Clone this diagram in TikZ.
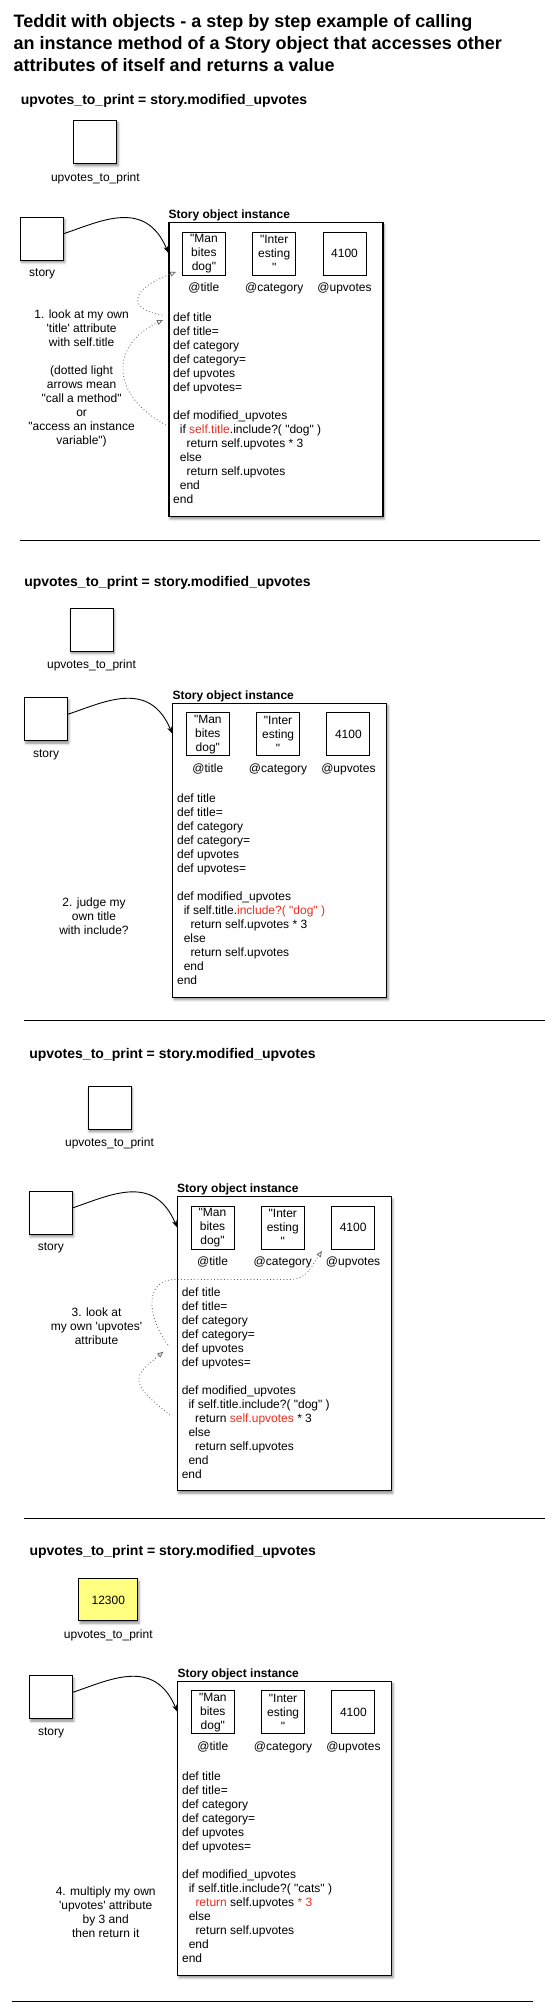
\documentclass[tikz,border=0pt]{standalone}
\usepackage{fontspec}
\setmainfont{Liberation Sans}[Ligatures=TeXOff]
\usepackage{xcolor}
\usepackage{tikz}
\usetikzlibrary{positioning, arrows.meta, shadows.blur}
\definecolor{codered}{RGB}{238,44,30}
\definecolor{answer}{RGB}{255,255,128}
\newcommand\hilite[2]{\ifnum\p=#1\relax\textcolor{codered}{#2}\else#2\fi}

\begin{document}
\begin{tikzpicture}[x=1pt, y=-1pt,
	soft shadow/.style={blur shadow={shadow xshift=1.2pt, shadow yshift=-2.4pt, shadow blur radius=2.4pt, shadow opacity=45}},
	varbox/.style={draw, line width=1pt, fill=white, minimum width=43pt, minimum height=43pt, inner sep=1pt, font=\fontsize{12}{14}\selectfont, soft shadow},
	objbox/.style={draw, line width=1.1pt, fill=white, anchor=north west, minimum width=214pt, minimum height=294pt, soft shadow},
	attrbox/.style={draw, line width=0.9pt, minimum width=43pt, minimum height=43pt, inner sep=1pt, align=center, font=\fontsize{12}{14}\selectfont},
	lbl/.style={inner sep=0pt, font=\fontsize{12}{14}\selectfont},
	bold/.style={inner sep=0pt, font=\fontsize{12}{14}\selectfont\bfseries},
	heading/.style={inner sep=0pt, anchor=base west, font=\fontsize{14}{16}\selectfont\bfseries},
	note/.style={inner sep=0pt, anchor=north, align=center, font=\fontsize{12}{14}\selectfont},
	code/.style={inner sep=0pt, anchor=north west, align=left, font=\fontsize{12}{14}\selectfont},
	pointer/.style={line width=0.9pt, -{Stealth[length=7pt, width=5pt]}},
	callarrow/.style={draw=black!60, line width=0.8pt, dash pattern=on 0.9pt off 2.4pt, -{Triangle[open, length=6pt, width=5pt, line width=0.8pt]}},
	rule/.style={line width=1pt}]

	\useasboundingbox (0,0) rectangle (553,2013);

	% Title
	\node[inner sep=0pt, anchor=north west, align=left, font=\fontsize{18}{22}\selectfont\bfseries] (headline) at (13.5,13.8)
	{Teddit with objects - a step by step example of calling\\an instance method of a Story object that accesses other\\attributes of itself and returns a value};

	% Statement and result variable of each step
	\node[heading] (head1) at (20.6,104) {upvotes\_to\_print = story.modified\_upvotes};
	\node[heading] (head2) at (24.1,586.7) {upvotes\_to\_print = story.modified\_upvotes};
	\node[heading] (head3) at (29.1,1058) {upvotes\_to\_print = story.modified\_upvotes};
	\node[heading] (head4) at (29.4,1555) {upvotes\_to\_print = story.modified\_upvotes};

	\node[varbox] (toprint1) at (95.4,142) {};
	\node[varbox] (toprint2) at (91.5,629.5) {};
	\node[varbox] (toprint3) at (109.5,1107.8) {};
	\node[varbox, fill=answer, minimum width=59pt, minimum height=42pt] (toprint4) at (108.3,1599.9) {12300};
	\foreach \p in {1,2,3,4}
		\node[lbl, below=17pt of toprint\p, anchor=base] (toprintlbl\p) {upvotes\_to\_print};

	% Story object of each step
	\foreach \p/\ox/\oy in {1/168.4/222, 2/172.3/702.7, 3/177/1196.3, 4/177.3/1680.7}{
		\node[objbox] (obj\p) at (\ox,\oy) {};
		\node[bold, anchor=base west] (inst\p) at ([yshift=3.7pt]obj\p.north west) {Story object instance};

		\node[varbox] (story\p) at (\ox-126.2,\oy+16.5) {};
		\node[lbl, below=16pt of story\p, anchor=base] (storylbl\p) {story};
		\draw[pointer] ([yshift=5pt]story\p.east) .. controls +(36,-12) and +(-23,-55) .. ([yshift=-31pt]obj\p.north west);

		\node[attrbox] (title\p) at (\ox+35.5,\oy+31.5) {"Man\\bites\\dog"};
		\node[attrbox, right=26.4pt of title\p] (cat\p) {"Inter\\esting\\"};
		\node[attrbox, right=26.4pt of cat\p] (upv\p) {4100};
		\node[lbl, below=16pt of title\p, anchor=base] (titlelbl\p) {@title};
		\node[lbl, below=16pt of cat\p, anchor=base] (catlbl\p) {@category};
		\node[lbl, below=16pt of upv\p, anchor=base] (upvlbl\p) {@upvotes};

		\node[code] (code\p) at ([shift={(4.6,91)}]obj\p.north west) {def title\\def title=\\def category\\def category=\\def upvotes\\def upvotes=\\[14pt]%
def modified\_upvotes\\%
\hspace*{6.7pt}if \hilite1{self.title}.\hilite2{include?( "\ifnum\p=4 cats\else dog\fi" )}\\%
\hspace*{13.4pt}\hilite4{return} \hilite3{self.upvotes} \hilite4{* 3}\\%
\hspace*{6.7pt}else\\%
\hspace*{13.4pt}return self.upvotes\\%
\hspace*{6.7pt}end\\%
end};
	}

	% Notes
	\node[note] (note1) at (81.6,309.7) {1. look at my own\\'title' attribute\\with self.title\\[14pt](dotted light\\arrows mean\\"call a method"\\or\\"access an instance\\variable")};
	\node[note] (note2) at (94,897.4) {2. judge my\\own title\\with include?};
	\node[note] (note3) at (96.5,1307.4) {3. look at\\my own 'upvotes'\\attribute};
	\node[note] (note4) at (105.7,1886.4) {4. multiply my own\\'upvotes' attribute\\by 3 and\\then return it};

	% Calls (dotted)
	\coordinate (selftitle) at ([shift={(-2.4,203)}]obj1.north west);
	\coordinate (deftitle) at ([shift={(-5.4,98)}]obj1.north west);
	\coordinate (deftitleout) at ([shift={(-6,93)}]obj1.north west);
	\coordinate (attrtitle) at ([shift={(7.6,50)}]obj1.north west);
	\draw[callarrow] (selftitle) .. controls +(-56,-30) and +(-53,25) .. (deftitle);
	\draw[callarrow] (deftitleout) .. controls +(-34,-5) and +(-48,18) .. (attrtitle);

	\coordinate (selfupv) at ([shift={(-7,218.7)}]obj3.north west);
	\coordinate (defupv) at ([shift={(-13.7,155.4)}]obj3.north west);
	\coordinate (defupvout) at ([shift={(-9,148.7)}]obj3.north west);
	\coordinate (bendA) at ([shift={(-2,83.2)}]obj3.north west);
	\coordinate (bendB) at ([shift={(113,83.2)}]obj3.north west);
	\coordinate (attrupv) at ([shift={(145,54.7)}]obj3.north west);
	\draw[callarrow] (selfupv) .. controls +(-45,-35) and +(-28,24) .. (defupv);
	\draw[callarrow] (defupvout) .. controls +(-22,-30) and +(-30,0) .. (bendA) -- (bendB) .. controls +(18,0) and +(-10,14) .. (attrupv);

	% Separators
	\draw[rule] (19.5,540.7) -- (539.7,540.7);
	\draw[rule] (24.1,1020.3) -- (545,1020.3);
	\draw[rule] (24.1,1518.3) -- (545,1518.3);
	\draw[rule] (12.4,2001) -- (532.6,2001);
\end{tikzpicture}
\end{document}
